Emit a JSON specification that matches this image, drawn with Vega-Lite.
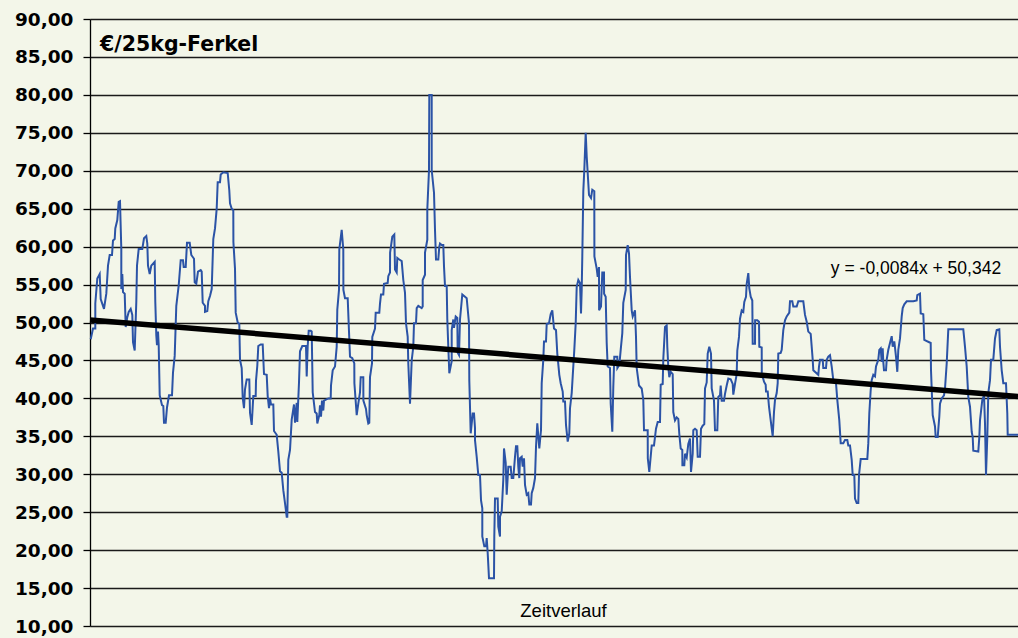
{
  "$schema": "https://vega.github.io/schema/vega-lite/v6.json",
  "width": 928,
  "height": 607,
  "autosize": {"type": "none"},
  "padding": {"left": 90, "top": 19, "right": 0, "bottom": 12},
  "background": "#F3F6E9",
  "title": {"text": "€/25kg-Ferkel", "anchor": "start", "orient": "top", "frame": "group", "baseline": "alphabetic", "offset": 0, "dx": 10, "dy": 61, "font": "DejaVu Sans", "fontSize": 20.5, "fontWeight": "bold", "color": "#000000"},
  "datasets": {
    "price": [
      {"x":0.7,"v":47.8},{"x":3.0,"v":49.2},{"x":5.3,"v":49.2},{"x":5.3,"v":52.5},{"x":7.3,"v":55.8},{"x":9.7,"v":56.4},{"x":10.7,"v":53.1},{"x":13.0,"v":52.2},{"x":14.0,"v":51.8},{"x":16.3,"v":53.8},{"x":18.0,"v":57.5},{"x":19.7,"v":58.9},{"x":22.0,"v":58.9},{"x":23.0,"v":60.8},{"x":24.7,"v":61.0},{"x":25.3,"v":62.4},{"x":27.3,"v":63.5},{"x":28.7,"v":65.9},{"x":30.0,"v":66.0},{"x":31.3,"v":59.7},{"x":31.3,"v":54.4},{"x":32.3,"v":56.4},{"x":33.0,"v":54.0},{"x":34.7,"v":53.8},{"x":35.7,"v":49.4},{"x":37.3,"v":50.7},{"x":38.7,"v":51.4},{"x":40.7,"v":51.8},{"x":42.3,"v":51.0},{"x":43.0,"v":47.4},{"x":44.7,"v":46.3},{"x":46.3,"v":52.7},{"x":47.0,"v":57.5},{"x":48.7,"v":59.7},{"x":52.3,"v":59.7},{"x":54.0,"v":61.1},{"x":56.3,"v":61.4},{"x":57.3,"v":60.4},{"x":58.0,"v":57.5},{"x":59.7,"v":56.4},{"x":61.3,"v":57.5},{"x":64.7,"v":58.0},{"x":65.3,"v":52.7},{"x":66.3,"v":48.3},{"x":67.0,"v":47.0},{"x":68.0,"v":48.8},{"x":68.7,"v":47.0},{"x":69.7,"v":40.4},{"x":72.0,"v":39.1},{"x":73.3,"v":39.0},{"x":74.0,"v":36.8},{"x":75.7,"v":36.8},{"x":77.0,"v":38.8},{"x":79.0,"v":40.4},{"x":82.0,"v":40.4},{"x":83.0,"v":43.4},{"x":84.7,"v":45.6},{"x":86.3,"v":52.2},{"x":88.7,"v":54.9},{"x":90.7,"v":58.2},{"x":93.0,"v":58.2},{"x":93.7,"v":57.3},{"x":95.7,"v":57.3},{"x":97.0,"v":60.5},{"x":99.7,"v":60.5},{"x":101.3,"v":58.9},{"x":104.0,"v":58.4},{"x":104.7,"v":55.3},{"x":106.3,"v":55.1},{"x":108.0,"v":56.7},{"x":110.7,"v":56.9},
      {"x":111.7,"v":56.7},{"x":112.7,"v":52.6},{"x":115.0,"v":52.2},{"x":115.0,"v":51.4},{"x":117.3,"v":51.5},{"x":118.3,"v":52.8},{"x":120.0,"v":53.5},{"x":121.7,"v":54.4},{"x":123.3,"v":61.0},{"x":125.0,"v":62.4},{"x":126.7,"v":65.0},{"x":127.7,"v":68.5},{"x":130.0,"v":68.5},{"x":130.7,"v":69.5},{"x":133.3,"v":69.8},{"x":137.7,"v":69.7},{"x":139.3,"v":67.4},{"x":140.0,"v":65.7},{"x":141.7,"v":65.0},{"x":143.3,"v":64.8},{"x":143.4,"v":60.6},{"x":145.0,"v":57.1},{"x":145.7,"v":51.3},{"x":147.7,"v":50.0},{"x":149.3,"v":49.8},{"x":150.0,"v":45.1},{"x":151.7,"v":44.0},{"x":152.7,"v":40.1},{"x":154.0,"v":38.7},{"x":155.0,"v":41.2},{"x":156.7,"v":42.5},{"x":159.3,"v":42.5},{"x":160.0,"v":38.1},{"x":161.7,"v":36.5},{"x":163.3,"v":40.3},{"x":165.7,"v":40.3},{"x":166.0,"v":42.3},{"x":167.3,"v":44.3},{"x":168.3,"v":46.9},{"x":170.7,"v":47.1},{"x":172.7,"v":47.1},{"x":174.0,"v":43.2},{"x":176.7,"v":43.1},{"x":177.7,"v":40.3},{"x":179.0,"v":38.7},{"x":180.0,"v":40.0},{"x":181.0,"v":39.2},{"x":183.3,"v":39.2},{"x":184.0,"v":35.7},{"x":186.7,"v":35.2},{"x":188.3,"v":33.0},{"x":190.0,"v":30.4},{"x":191.7,"v":30.2},{"x":193.3,"v":27.9},{"x":195.0,"v":26.2},{"x":196.7,"v":24.4},{"x":197.3,"v":24.4},{"x":198.3,"v":31.9},{"x":200.0,"v":33.2},{"x":201.7,"v":37.2},{"x":204.0,"v":39.2},{"x":205.0,"v":36.8},{"x":206.7,"v":39.4},{"x":207.3,"v":36.9},{"x":209.0,"v":42.1},{"x":210.0,"v":46.2},{"x":212.3,"v":46.9},{"x":216.0,"v":46.9},{"x":216.7,"v":42.9},{"x":217.7,"v":46.9},{"x":218.7,"v":48.9},{"x":220.7,"v":48.9},
      {"x":221.7,"v":48.8},{"x":222.7,"v":40.8},{"x":225.0,"v":38.2},{"x":226.7,"v":38.0},{"x":227.3,"v":36.7},{"x":229.3,"v":37.8},{"x":230.0,"v":39.1},{"x":231.0,"v":37.6},{"x":232.0,"v":39.7},{"x":233.3,"v":38.4},{"x":234.0,"v":39.7},{"x":238.3,"v":40.0},{"x":240.7,"v":40.0},{"x":241.0,"v":41.7},{"x":242.7,"v":43.7},{"x":245.0,"v":44.2},{"x":246.7,"v":46.8},{"x":247.3,"v":51.7},{"x":249.0,"v":54.3},{"x":249.3,"v":59.6},{"x":251.7,"v":62.2},{"x":253.3,"v":59.6},{"x":253.4,"v":54.3},{"x":255.0,"v":53.2},{"x":257.7,"v":53.2},{"x":259.0,"v":48.8},{"x":260.0,"v":45.5},{"x":262.3,"v":45.3},{"x":264.3,"v":44.6},{"x":264.4,"v":42.0},{"x":266.7,"v":37.8},{"x":268.3,"v":39.3},{"x":270.0,"v":40.8},{"x":270.7,"v":42.8},{"x":273.3,"v":42.8},{"x":273.4,"v":39.7},{"x":276.0,"v":38.6},{"x":276.7,"v":37.8},{"x":278.3,"v":36.7},{"x":279.3,"v":36.8},{"x":280.0,"v":42.8},{"x":282.0,"v":44.6},{"x":282.3,"v":48.1},{"x":285.0,"v":49.2},{"x":285.7,"v":51.3},{"x":289.3,"v":51.3},{"x":290.0,"v":52.5},{"x":291.0,"v":53.7},{"x":293.3,"v":53.7},{"x":294.0,"v":55.1},{"x":297.7,"v":55.2},{"x":298.3,"v":56.1},{"x":300.0,"v":56.6},{"x":300.1,"v":59.2},{"x":302.3,"v":61.3},{"x":304.3,"v":61.6},{"x":305.0,"v":57.0},{"x":306.7,"v":56.6},{"x":307.3,"v":58.5},{"x":309.3,"v":58.3},{"x":311.7,"v":58.1},{"x":313.3,"v":55.6},{"x":315.0,"v":53.9},{"x":316.0,"v":49.9},{"x":317.7,"v":48.1},{"x":318.3,"v":44.6},{"x":320.0,"v":39.3},{"x":321.7,"v":45.0},{"x":323.3,"v":46.8},{"x":324.0,"v":49.9},{"x":326.0,"v":49.9},{"x":326.7,"v":51.9},{"x":328.3,"v":52.2},{"x":331.7,"v":51.9},
      {"x":332.7,"v":52.1},{"x":332.7,"v":55.6},{"x":335.0,"v":56.3},{"x":335.0,"v":59.2},{"x":337.3,"v":60.9},{"x":337.3,"v":64.9},{"x":339.0,"v":70.1},{"x":339.3,"v":80.0},{"x":341.7,"v":80.0},{"x":341.7,"v":70.1},{"x":344.0,"v":67.1},{"x":345.0,"v":62.2},{"x":346.0,"v":58.3},{"x":348.3,"v":58.3},{"x":349.3,"v":60.0},{"x":350.0,"v":60.4},{"x":351.7,"v":60.2},{"x":353.3,"v":60.2},{"x":354.0,"v":57.4},{"x":355.0,"v":54.8},{"x":356.7,"v":54.8},{"x":357.3,"v":50.4},{"x":358.3,"v":46.8},{"x":359.3,"v":43.3},{"x":361.7,"v":44.9},{"x":361.7,"v":49.0},{"x":363.3,"v":50.4},{"x":364.0,"v":49.3},{"x":365.7,"v":50.8},{"x":367.3,"v":50.6},{"x":367.7,"v":46.0},{"x":369.0,"v":45.7},{"x":370.0,"v":50.4},{"x":372.3,"v":53.7},{"x":375.0,"v":53.4},{"x":376.7,"v":53.2},{"x":379.0,"v":49.9},{"x":379.3,"v":42.4},{"x":380.7,"v":35.4},{"x":382.7,"v":38.0},{"x":384.0,"v":38.0},{"x":385.0,"v":36.1},{"x":385.0,"v":34.5},{"x":386.7,"v":32.3},{"x":388.3,"v":29.9},{"x":390.0,"v":29.9},{"x":391.0,"v":26.6},{"x":392.3,"v":25.5},{"x":392.3,"v":21.8},{"x":394.3,"v":20.5},{"x":396.0,"v":20.5},{"x":396.7,"v":21.6},{"x":397.7,"v":19.6},{"x":399.0,"v":16.3},{"x":404.0,"v":16.3},{"x":404.3,"v":21.8},{"x":405.0,"v":26.8},{"x":407.7,"v":26.8},{"x":408.3,"v":23.1},{"x":410.0,"v":21.8},{"x":410.0,"v":24.4},{"x":411.7,"v":25.1},{"x":413.3,"v":29.3},{"x":414.0,"v":33.4},{"x":415.7,"v":31.5},{"x":416.7,"v":27.3},{"x":418.3,"v":31.0},{"x":420.7,"v":31.0},{"x":421.7,"v":29.5},{"x":423.3,"v":29.5},{"x":425.0,"v":32.3},{"x":426.0,"v":33.7},{"x":427.3,"v":33.7},{"x":428.3,"v":31.0},{"x":429.3,"v":29.5},{"x":430.0,"v":32.1},{"x":431.7,"v":32.3},{"x":432.7,"v":31.0},{"x":434.0,"v":32.1},{"x":435.0,"v":28.6},{"x":436.7,"v":27.3},{"x":438.3,"v":27.5},{"x":439.3,"v":26.0},{"x":441.0,"v":26.0},{"x":441.7,"v":27.5},{"x":443.3,"v":28.2},{"x":445.0,"v":29.5},
      {"x":446.0,"v":33.6},{"x":447.3,"v":36.7},{"x":449.3,"v":33.4},{"x":451.0,"v":35.8},{"x":451.7,"v":42.0},{"x":453.3,"v":45.1},{"x":454.0,"v":47.5},{"x":456.0,"v":47.5},{"x":456.7,"v":49.8},{"x":459.0,"v":49.9},{"x":460.7,"v":51.1},{"x":462.3,"v":51.6},{"x":464.0,"v":49.2},{"x":466.0,"v":49.0},{"x":467.3,"v":45.9},{"x":469.3,"v":43.1},{"x":470.7,"v":42.0},{"x":472.7,"v":40.9},{"x":473.3,"v":39.6},{"x":475.0,"v":39.6},{"x":476.0,"v":36.5},{"x":477.7,"v":34.3},{"x":479.3,"v":35.4},{"x":480.0,"v":38.7},{"x":481.7,"v":40.7},{"x":482.7,"v":42.9},{"x":484.3,"v":46.4},{"x":485.7,"v":49.9},{"x":486.7,"v":54.7},{"x":488.3,"v":55.6},{"x":490.0,"v":55.2},{"x":491.0,"v":51.2},{"x":491.7,"v":54.3},{"x":492.3,"v":58.7},{"x":493.3,"v":67.3},{"x":494.3,"v":70.1},{"x":495.7,"v":75.0},{"x":496.7,"v":71.9},{"x":497.7,"v":69.7},{"x":499.0,"v":66.8},{"x":501.0,"v":66.4},{"x":502.3,"v":67.5},{"x":504.3,"v":67.3},{"x":504.4,"v":58.7},{"x":506.7,"v":57.1},{"x":507.7,"v":56.0},{"x":509.0,"v":57.3},{"x":509.1,"v":51.6},{"x":511.0,"v":52.1},{"x":512.3,"v":56.6},{"x":514.0,"v":56.6},{"x":514.1,"v":53.8},{"x":515.7,"v":53.4},{"x":516.7,"v":47.3},{"x":517.7,"v":44.2},{"x":520.0,"v":44.0},{"x":520.7,"v":39.3},{"x":522.3,"v":35.6},{"x":523.3,"v":41.5},{"x":524.3,"v":45.5},{"x":527.3,"v":45.5},{"x":527.4,"v":44.0},{"x":529.3,"v":44.4},{"x":530.7,"v":46.4},{"x":532.3,"v":48.6},{"x":533.3,"v":52.6},{"x":535.7,"v":54.3},{"x":536.0,"v":58.9},{"x":537.7,"v":60.2},{"x":539.0,"v":59.1},{"x":540.0,"v":56.0},{"x":541.7,"v":51.6},{"x":542.7,"v":50.8},{"x":545.0,"v":51.6},{"x":546.0,"v":48.1},{"x":546.7,"v":44.0},{"x":548.3,"v":42.4},{"x":549.0,"v":41.7},{"x":551.7,"v":41.3},{"x":553.3,"v":39.8},{"x":554.0,"v":35.8},{"x":557.7,"v":35.8},{"x":557.8,"v":32.1},
      {"x":559.3,"v":30.3},{"x":561.7,"v":33.8},{"x":564.0,"v":33.8},{"x":566.0,"v":36.0},{"x":567.7,"v":36.9},{"x":570.0,"v":36.9},{"x":570.7,"v":41.8},{"x":572.7,"v":41.9},{"x":573.3,"v":45.2},{"x":575.0,"v":49.4},{"x":576.7,"v":49.6},{"x":577.3,"v":46.8},{"x":578.3,"v":44.1},{"x":579.3,"v":42.8},{"x":580.7,"v":43.5},{"x":582.7,"v":43.2},{"x":583.3,"v":38.2},{"x":585.0,"v":37.1},{"x":586.7,"v":37.5},{"x":588.3,"v":37.3},{"x":589.3,"v":35.3},{"x":590.7,"v":33.4},{"x":592.3,"v":33.2},{"x":592.4,"v":31.2},{"x":594.3,"v":31.2},{"x":595.0,"v":32.7},{"x":596.7,"v":32.2},{"x":598.3,"v":34.0},{"x":600.0,"v":34.7},{"x":601.0,"v":30.3},{"x":602.7,"v":32.7},{"x":603.3,"v":35.8},{"x":605.0,"v":36.0},{"x":606.7,"v":35.8},{"x":607.7,"v":32.3},{"x":610.0,"v":32.3},{"x":611.0,"v":36.0},{"x":612.7,"v":36.4},{"x":614.3,"v":36.6},{"x":615.0,"v":41.3},{"x":616.7,"v":42.1},{"x":617.7,"v":45.9},{"x":619.3,"v":46.8},{"x":621.0,"v":45.9},{"x":621.7,"v":41.3},{"x":624.0,"v":39.7},{"x":625.0,"v":35.8},{"x":627.3,"v":35.8},{"x":628.3,"v":40.2},{"x":630.0,"v":40.4},{"x":630.7,"v":41.7},{"x":631.7,"v":39.7},{"x":634.0,"v":39.7},{"x":635.0,"v":40.6},{"x":636.7,"v":41.7},{"x":638.3,"v":42.6},{"x":640.7,"v":42.5},{"x":642.7,"v":41.9},{"x":643.3,"v":40.5},{"x":645.0,"v":41.9},{"x":646.7,"v":43.2},{"x":647.3,"v":46.3},{"x":649.0,"v":48.1},{"x":650.0,"v":50.5},{"x":651.7,"v":51.6},{"x":653.3,"v":51.4},{"x":654.3,"v":52.7},{"x":656.0,"v":53.4},{"x":656.7,"v":55.1},{"x":658.3,"v":56.5},{"x":659.3,"v":54.5},{"x":660.7,"v":53.4},{"x":662.3,"v":52.9},{"x":662.7,"v":47.2},{"x":665.0,"v":47.2},{"x":665.1,"v":50.3},{"x":667.3,"v":50.3},{"x":669.0,"v":50.1},
      {"x":669.3,"v":46.8},{"x":671.7,"v":46.7},{"x":671.8,"v":43.3},{"x":674.0,"v":42.2},{"x":675.7,"v":41.8},{"x":676.0,"v":40.9},{"x":677.7,"v":40.9},{"x":679.0,"v":38.9},{"x":680.7,"v":37.1},{"x":682.7,"v":35.0},{"x":684.0,"v":38.2},{"x":685.0,"v":39.8},{"x":686.7,"v":40.7},{"x":687.7,"v":42.0},{"x":688.3,"v":45.9},{"x":690.7,"v":46.0},{"x":691.7,"v":46.4},{"x":693.3,"v":49.0},{"x":695.0,"v":50.3},{"x":696.7,"v":50.8},{"x":699.3,"v":51.3},{"x":700.0,"v":52.8},{"x":702.3,"v":52.8},{"x":703.3,"v":52.1},{"x":706.7,"v":52.1},{"x":708.3,"v":52.8},{"x":713.3,"v":52.8},{"x":715.0,"v":51.0},{"x":716.7,"v":50.1},{"x":718.3,"v":48.8},{"x":720.7,"v":48.5},{"x":721.7,"v":46.8},{"x":722.7,"v":45.1},{"x":723.3,"v":43.7},{"x":728.3,"v":43.1},{"x":729.0,"v":44.2},{"x":730.0,"v":45.1},{"x":732.7,"v":45.1},{"x":733.3,"v":44.0},{"x":736.0,"v":44.0},{"x":736.7,"v":45.1},{"x":738.3,"v":45.5},{"x":740.0,"v":45.7},{"x":741.7,"v":44.2},{"x":743.3,"v":42.4},{"x":746.0,"v":42.0},{"x":747.3,"v":39.8},{"x":749.3,"v":37.1},{"x":750.7,"v":34.1},{"x":753.3,"v":34.1},{"x":755.0,"v":34.5},{"x":757.3,"v":34.5},{"x":758.3,"v":33.8},{"x":760.0,"v":33.8},{"x":761.7,"v":31.9},{"x":762.7,"v":29.9},{"x":764.3,"v":29.9},{"x":765.0,"v":26.8},{"x":766.7,"v":26.2},{"x":768.3,"v":26.2},{"x":769.0,"v":29.9},{"x":770.7,"v":32.0},{"x":777.3,"v":32.0},
      {"x":778.3,"v":34.1},{"x":779.3,"v":38.0},{"x":780.7,"v":41.1},{"x":781.7,"v":42.4},{"x":783.3,"v":43.1},{"x":785.0,"v":42.9},{"x":786.0,"v":44.2},{"x":788.3,"v":45.1},{"x":789.3,"v":46.4},{"x":790.7,"v":46.6},{"x":791.7,"v":44.8},{"x":792.7,"v":46.6},{"x":793.3,"v":44.8},{"x":794.0,"v":43.7},{"x":796.0,"v":43.7},{"x":796.7,"v":45.1},{"x":798.3,"v":46.4},{"x":800.0,"v":47.3},{"x":801.7,"v":48.2},{"x":802.7,"v":46.8},{"x":804.3,"v":47.5},{"x":806.0,"v":45.5},{"x":807.3,"v":43.5},{"x":808.3,"v":46.4},{"x":810.0,"v":47.9},{"x":811.7,"v":50.8},{"x":812.7,"v":51.9},{"x":814.3,"v":52.4},{"x":816.7,"v":52.8},{"x":823.3,"v":52.8},{"x":826.7,"v":52.9},{"x":827.3,"v":53.6},{"x":830.0,"v":53.8},{"x":830.7,"v":51.2},{"x":833.3,"v":51.1},{"x":834.3,"v":47.7},{"x":840.7,"v":47.3},{"x":841.0,"v":43.7},{"x":842.7,"v":37.8},{"x":845.0,"v":36.3},{"x":845.7,"v":34.9},{"x":847.7,"v":34.9},{"x":849.3,"v":37.6},{"x":850.0,"v":39.3},{"x":851.7,"v":40.0},{"x":854.0,"v":40.4},{"x":855.0,"v":41.3},{"x":856.7,"v":44.6},{"x":858.3,"v":49.1},{"x":873.3,"v":49.1},{"x":875.0,"v":46.8},{"x":876.7,"v":44.2},{"x":878.3,"v":40.2},{"x":880.0,"v":38.9},{"x":881.7,"v":35.6},{"x":882.7,"v":34.9},{"x":883.3,"v":33.1},{"x":888.3,"v":33.0},{"x":889.3,"v":34.9},{"x":890.0,"v":37.1},{"x":892.3,"v":39.8},{"x":894.0,"v":40.4},{"x":895.0,"v":36.7},{"x":896.0,"v":29.9},{"x":897.3,"v":34.9},{"x":898.3,"v":40.7},{"x":900.0,"v":42.4},{"x":901.0,"v":45.1},{"x":903.3,"v":45.1},{"x":905.0,"v":47.9},{"x":906.7,"v":49.0},{"x":909.3,"v":49.1},{"x":910.0,"v":46.8},{"x":911.7,"v":43.7},{"x":913.3,"v":42.0},{"x":916.0,"v":42.0},{"x":917.3,"v":38.0},{"x":917.7,"v":35.2},{"x":928.0,"v":35.2}
    ],
    "trend": [{"x": 0, "v": 50.34}, {"x": 928, "v": 40.25}]
  },
  "layer": [
    {
      "data": {"name": "price"},
      "mark": {"type": "line", "color": "#2B53A6", "strokeWidth": 2},
      "encoding": {
        "x": {"field": "x", "type": "quantitative",
          "scale": {"domain": [0, 928], "nice": false, "zero": false},
          "axis": {"labels": false, "ticks": false, "domain": false, "grid": false,
            "title": "Zeitverlauf", "titleFont": "Liberation Sans", "titleFontSize": 18.5, "titleFontWeight": "normal", "titleColor": "#000000",
            "titleX": 473, "titleY": -10, "titleBaseline": "alphabetic", "titleAlign": "center"}},
        "y": {"field": "v", "type": "quantitative",
          "scale": {"domain": [10, 90], "nice": false, "zero": false},
          "axis": {"values": [10,15,20,25,30,35,40,45,50,55,60,65,70,75,80,85,90],
            "labelExpr": "replace(format(datum.value, '.2f'), '.', ',')",
            "title": null, "grid": true, "gridColor": "#1a1a1a", "gridWidth": 1.3,
            "domainColor": "#000000", "domainWidth": 1.3, "tickColor": "#000000", "tickSize": 7, "tickWidth": 1.3,
            "labelFont": "DejaVu Sans", "labelFontSize": 18.5, "labelFontWeight": "bold", "labelColor": "#000000",
            "labelPadding": 10, "labelOverlap": false, "labelBound": false}}
      }
    },
    {
      "data": {"name": "trend"},
      "mark": {"type": "line", "color": "#000000", "strokeWidth": 5.5},
      "encoding": {
        "x": {"field": "x", "type": "quantitative",
          "axis": {"labels": false, "ticks": false, "domain": false, "grid": false,
            "title": "Zeitverlauf", "titleFont": "Liberation Sans", "titleFontSize": 18.5, "titleFontWeight": "normal", "titleColor": "#000000",
            "titleX": 473, "titleY": -10, "titleBaseline": "alphabetic", "titleAlign": "center"}},
        "y": {"field": "v", "type": "quantitative",
          "axis": {"values": [10,15,20,25,30,35,40,45,50,55,60,65,70,75,80,85,90],
            "labelExpr": "replace(format(datum.value, '.2f'), '.', ',')",
            "title": null, "grid": true, "gridColor": "#1a1a1a", "gridWidth": 1.3,
            "domainColor": "#000000", "domainWidth": 1.3, "tickColor": "#000000", "tickSize": 7, "tickWidth": 1.3,
            "labelFont": "DejaVu Sans", "labelFontSize": 18.5, "labelFontWeight": "bold", "labelColor": "#000000",
            "labelPadding": 10, "labelOverlap": false, "labelBound": false}}
      }
    },
    {
      "data": {"values": [{}]},
      "mark": {"type": "text", "font": "Liberation Sans", "fontSize": 17.5, "color": "#000000", "align": "center", "baseline": "middle"},
      "encoding": {
        "x": {"datum": 826, "type": "quantitative",
          "axis": {"labels": false, "ticks": false, "domain": false, "grid": false,
            "title": "Zeitverlauf", "titleFont": "Liberation Sans", "titleFontSize": 18.5, "titleFontWeight": "normal", "titleColor": "#000000",
            "titleX": 473, "titleY": -10, "titleBaseline": "alphabetic", "titleAlign": "center"}},
        "y": {"datum": 57, "type": "quantitative",
          "axis": {"values": [10,15,20,25,30,35,40,45,50,55,60,65,70,75,80,85,90],
            "labelExpr": "replace(format(datum.value, '.2f'), '.', ',')",
            "title": null, "grid": true, "gridColor": "#1a1a1a", "gridWidth": 1.3,
            "domainColor": "#000000", "domainWidth": 1.3, "tickColor": "#000000", "tickSize": 7, "tickWidth": 1.3,
            "labelFont": "DejaVu Sans", "labelFontSize": 18.5, "labelFontWeight": "bold", "labelColor": "#000000",
            "labelPadding": 10, "labelOverlap": false, "labelBound": false}},
        "text": {"value": "y = -0,0084x + 50,342"}
      }
    }
  ],
  "config": {"view": {"stroke": null}}
}
